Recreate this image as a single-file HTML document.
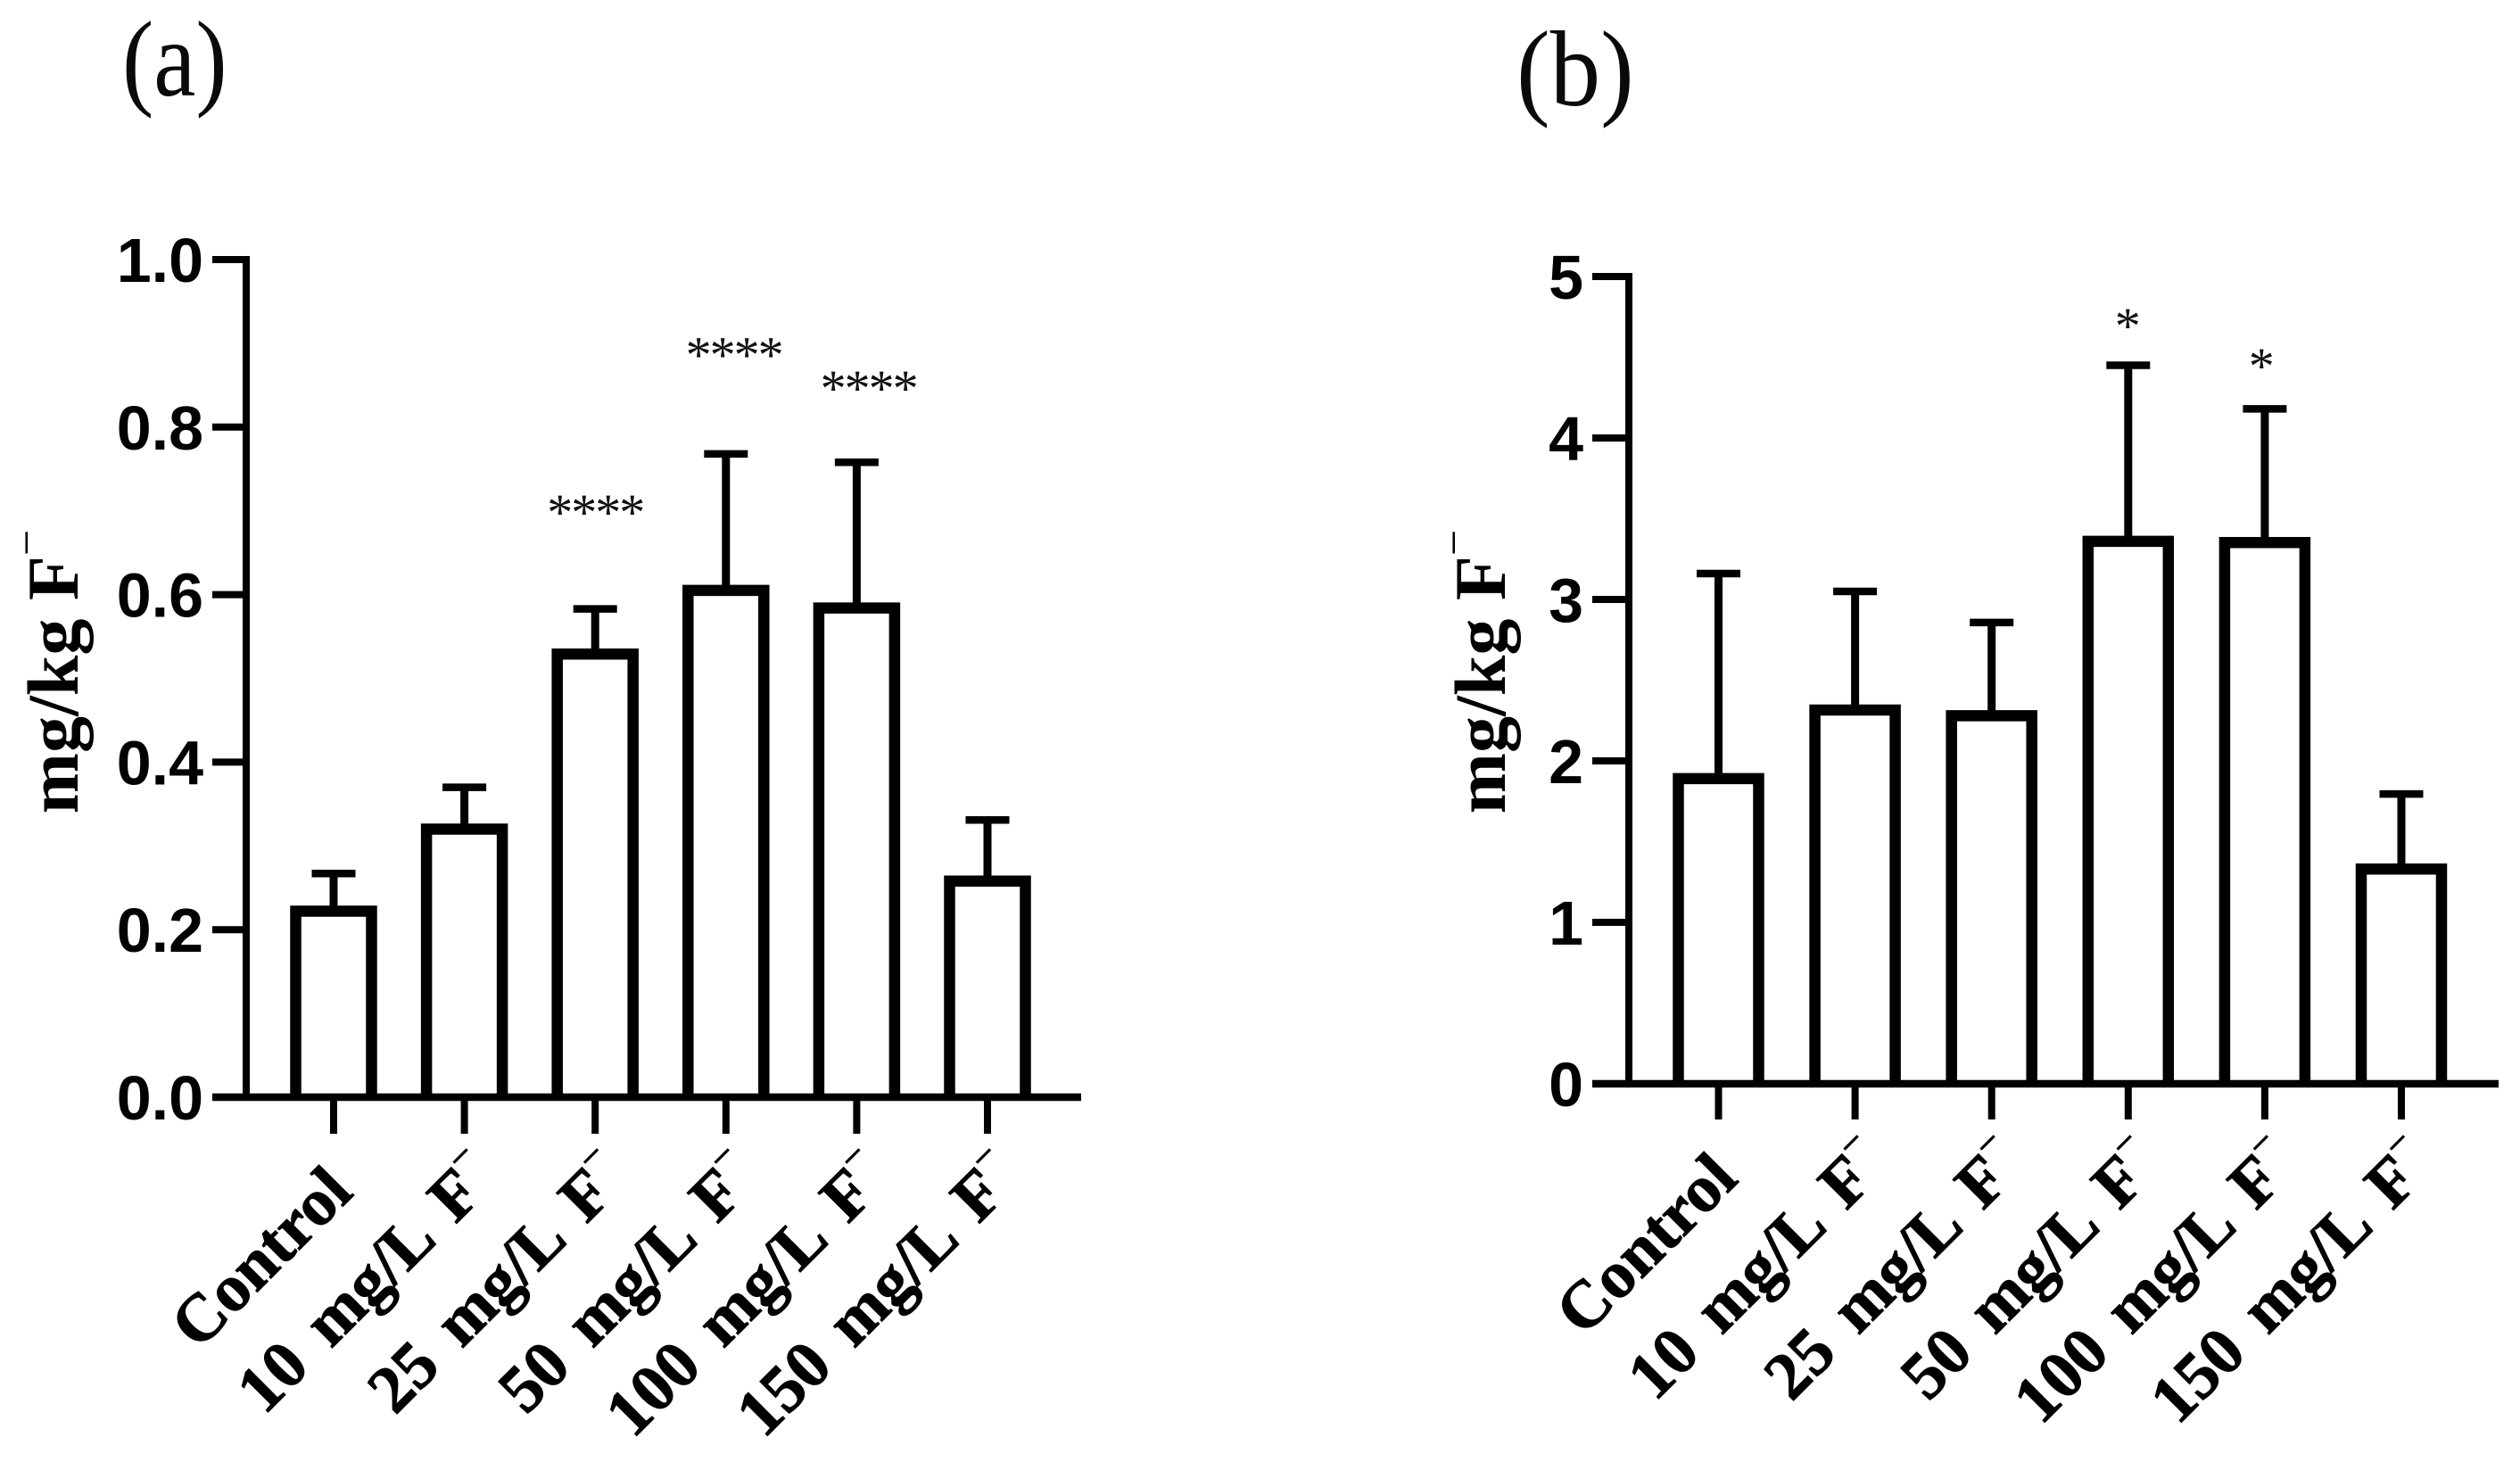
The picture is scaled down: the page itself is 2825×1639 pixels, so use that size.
<!DOCTYPE html>
<html lang="en">
<head>
<meta charset="utf-8">
<title>Fluoride concentration bar charts</title>
<style>
html,body{margin:0;padding:0;background:#fff;width:2825px;height:1639px;overflow:hidden}
svg{display:block}
.panel{font-family:"Liberation Serif",serif;fill:#0a0a0a}
.ytick{font-family:"Liberation Sans",sans-serif;font-weight:bold;font-size:70px;fill:#000;text-anchor:end}
.xlab{font-family:"Liberation Serif",serif;font-weight:bold;font-size:75px;word-spacing:12px;fill:#000;stroke:#000;stroke-width:1px;text-anchor:end}
.ytitle{font-family:"Liberation Serif",serif;font-weight:bold;font-size:82px;fill:#000;text-anchor:middle}
.star{font-family:"Liberation Serif",serif;font-size:58px;letter-spacing:-2px;fill:#111;text-anchor:middle}
</style>
</head>
<body>
<svg id="figure" xmlns="http://www.w3.org/2000/svg" width="2825" height="1639" viewBox="0 0 2825 1639">
  <rect width="2825" height="1639" fill="#fff"/>
  <text class="panel" font-size="106" transform="translate(137 107) scale(1 1.14)">(a)</text>
  <text class="panel" font-size="113" transform="translate(1700 118) scale(1 1.07)">(b)</text>
  <g id="chart-a"></g>
  <g id="chart-b"></g>
</svg>
<script>
const categories = ["Control", "10 mg/L F", "25 mg/L F", "50 mg/L F", "100 mg/L F", "150 mg/L F"];
const hasIonMark = [false, true, true, true, true, true];

const valuesA = [0.222, 0.32, 0.529, 0.605, 0.584, 0.258];
const errorsA = [0.045, 0.05, 0.054, 0.163, 0.174, 0.073];
const tickValuesA = [0, 0.2, 0.4, 0.6, 0.8, 1.0];
const tickLabelsA = ["0.0", "0.2", "0.4", "0.6", "0.8", "1.0"];
const starsA = ["", "", "****", "****", "****", ""];
const starLevelsA = [0, 0, 0.705, 0.893, 0.853, 0];
const starShiftsA = [0, 0, 0, 0.06, 0.09, 0];

const valuesB = [1.89, 2.315, 2.28, 3.36, 3.352, 1.33];
const errorsB = [1.27, 0.735, 0.577, 1.09, 0.828, 0.465];
const tickValuesB = [0, 1, 2, 3, 4, 5];
const tickLabelsB = ["0", "1", "2", "3", "4", "5"];
const starsB = ["", "", "", "*", "*", ""];
const starLevelsB = [0, 0, 0, 4.73, 4.48, 0];
const starShiftsB = [0, 0, 0, -0.01, -0.03, 0];

const SVG_NS = "http://www.w3.org/2000/svg";

function make(parent, tag, attrs) {
  const el = document.createElementNS(SVG_NS, tag);
  for (const k in attrs) el.setAttribute(k, attrs[k]);
  parent.appendChild(el);
  return el;
}

function drawChart(root, cfg) {
  const y = v => cfg.y0 + (cfg.y1 - cfg.y0) * (v - cfg.min) / (cfg.max - cfg.min);
  const x = i => cfg.x0 + cfg.step * i;

  cfg.values.forEach((v, i) => {
    const top = y(v + cfg.errors[i]);
    const stem = make(root, "line", {x1: x(i), x2: x(i), y1: y(v), y2: top, stroke: "#000", "stroke-width": 9});
    
    
    const cap = make(root, "line", {x1: x(i) - 24.5, x2: x(i) + 24.5, y1: top, y2: top, stroke: "#000", "stroke-width": 8.5});
    
    
    const l = x(i) - cfg.barW / 2, r = x(i) + cfg.barW / 2;
    const bar = make(root, "path", {d: `M${l} ${y(0)}V${y(v)}H${r}V${y(0)}`, fill: "#fff", stroke: "#000", "stroke-width": 12.5});
    
    
    const xt = make(root, "line", {x1: x(i), x2: x(i), y1: y(0), y2: y(0) + cfg.xTickLen, stroke: "#000", "stroke-width": 8});
    
    

    const back = hasIonMark[i] ? 0 : 16;
    const lx = x(i) + cfg.labelDx - back, ly = y(0) + cfg.labelDy + back;
    const lab = make(root, "text", {class: "xlab", x: lx, y: ly, transform: `rotate(-45 ${lx} ${ly})`});
    
    
    lab.appendChild(document.createTextNode(categories[i]));
    if (hasIonMark[i]) {
      const sup = make(lab, "tspan", {dy: -36, "font-size": 44, "font-weight": "normal"});
      
      
      sup.textContent = "\u2212";
    }

    if (cfg.stars[i]) {
      const st = make(root, "text", {class: "star", x: x(i + cfg.starShifts[i]), y: y(cfg.starLevels[i]) + 26});
      
      
      st.textContent = cfg.stars[i];
    }
  });

  const yAxis = make(root, "line", {x1: cfg.axisX, x2: cfg.axisX, y1: y(cfg.max) - 4, y2: y(cfg.min), stroke: "#000", "stroke-width": 8});
  
  
  const xAxis = make(root, "line", {x1: cfg.tickLeft, x2: cfg.xEnd, y1: y(0), y2: y(0), stroke: "#000", "stroke-width": 8.5});
  
  

  cfg.ticks.forEach((t, i) => {
    const tick = make(root, "line", {x1: cfg.tickLeft, x2: cfg.axisX + 4, y1: y(t), y2: y(t), stroke: "#000", "stroke-width": 8});
    
    
    const tl = make(root, "text", {class: "ytick", x: cfg.tickLabelX, y: y(t) + 25});
    
    
    tl.textContent = cfg.tickLabels[i];
  });

  const tx = cfg.titleX, ty = cfg.titleY;
  const title = make(root, "text", {class: "ytitle", x: tx, y: ty, transform: `rotate(-90 ${tx} ${ty})`});
  
  
  title.appendChild(document.createTextNode("mg/kg F"));
  const sup = make(title, "tspan", {dy: -40, "font-size": 52, "font-weight": "normal"});
  
  
  sup.textContent = "\u2212";
}

drawChart(document.getElementById("chart-a"), {
  values: valuesA, errors: errorsA, ticks: tickValuesA, tickLabels: tickLabelsA,
  stars: starsA, starLevels: starLevelsA, starShifts: starShiftsA,
  min: 0, max: 1, y0: 1230, y1: 291, x0: 374, step: 146.6, barW: 85,
  axisX: 276, tickLeft: 238, xEnd: 1212, xTickLen: 41, tickLabelX: 228,
  labelDx: 40, labelDy: 93, titleX: 87, titleY: 753
});

drawChart(document.getElementById("chart-b"), {
  values: valuesB, errors: errorsB, ticks: tickValuesB, tickLabels: tickLabelsB,
  stars: starsB, starLevels: starLevelsB, starShifts: starShiftsB,
  min: 0, max: 5, y0: 1215, y1: 310, x0: 1926.5, step: 153.1, barW: 90,
  axisX: 1826, tickLeft: 1785, xEnd: 2801, xTickLen: 40, tickLabelX: 1775,
  labelDx: 40, labelDy: 93, titleX: 1687, titleY: 753
});
</script>
</body>
</html>
